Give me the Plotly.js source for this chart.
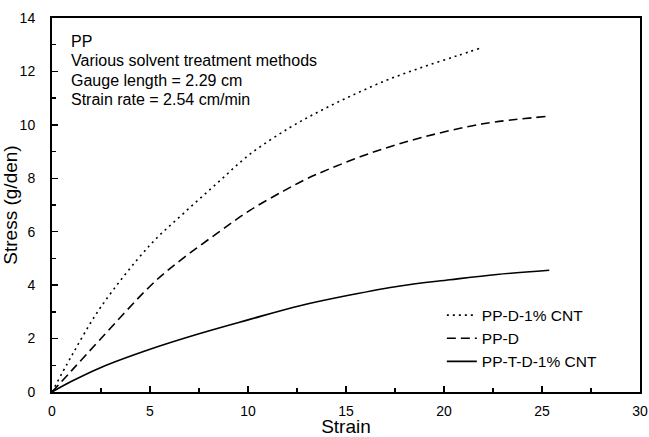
<!DOCTYPE html>
<html>
<head>
<meta charset="utf-8">
<script src="https://cdn.plot.ly/plotly-3.0.1.min.js"></script>
<style>html,body{margin:0;padding:0;background:#fff;}#chart{width:649px;height:437px;}</style>
</head>
<body>
<div id="chart"></div>
<script>
// PP-D-1% CNT (dotted)
var strainDotted = [0, 1, 2.5, 5, 6.7, 8.4, 10.1, 12.14, 13.84, 15.54, 17.24, 18.94, 20.65, 21.84];
var stressDotted = [0, 1.35, 3.19, 5.5, 6.68, 7.8, 8.9, 9.9, 10.58, 11.18, 11.72, 12.17, 12.58, 12.87];
// PP-D (dashed)
var strainDashed = [0, 1, 2.5, 5, 6.19, 8.4, 10.1, 11.8, 13.0, 14.18, 16.4, 18.94, 22.0, 25.3];
var stressDashed = [0, 0.8, 2.0, 3.96, 4.72, 5.93, 6.8, 7.52, 7.98, 8.36, 8.98, 9.54, 10.04, 10.32];
// PP-T-D-1% CNT (solid)
var strainSolid = [0, 1, 2.5, 5, 7.5, 10, 12.65, 15.2, 17.76, 20.3, 22.7, 25.37];
var stressSolid = [0, 0.4, 0.92, 1.6, 2.18, 2.7, 3.23, 3.63, 3.97, 4.2, 4.4, 4.56];

var seriesNames = ["PP-D-1% CNT", "PP-D", "PP-T-D-1% CNT"];
var xTicks = [0, 5, 10, 15, 20, 25, 30];
var yTicks = [0, 2, 4, 6, 8, 10, 12, 14];
var noteLines = ["PP", "Various solvent treatment methods", "Gauge length = 2.29 cm", "Strain rate = 2.54 cm/min"];

var FONT = "Liberation Sans, Arial, sans-serif";

var traces = [
  {x: strainDotted, y: stressDotted, name: seriesNames[0], mode: "lines", line: {color: "#000", width: 1.6, dash: "2px,4px", shape: "spline"}},
  {x: strainDashed, y: stressDashed, name: seriesNames[1], mode: "lines", line: {color: "#000", width: 1.6, dash: "9px,5px", shape: "spline"}},
  {x: strainSolid, y: stressSolid, name: seriesNames[2], mode: "lines", line: {color: "#000", width: 1.6, shape: "spline"}}
];

var noteY = [0.937, 0.886, 0.833, 0.782];
var annotations = noteLines.map(function (t, i) {
  return {text: t, xref: "paper", yref: "paper", x: 0.029, y: noteY[i], xanchor: "left", yanchor: "middle",
          showarrow: false, font: {family: FONT, size: 16, color: "#000"}};
});

var layout = {
  width: 649, height: 437,
  margin: {l: 52, r: 9, t: 17.5, b: 45, pad: 0},
  paper_bgcolor: "#fff", plot_bgcolor: "#fff",
  showlegend: true,
  legend: {x: 0.663, y: 0.25, xanchor: "left", yanchor: "top", bgcolor: "rgba(0,0,0,0)",
           font: {family: FONT, size: 15.5, color: "#000"}, tracegroupgap: 0},
  xaxis: {
    range: [0, 30], tickvals: xTicks, ticktext: xTicks.map(String),
    showline: true, linecolor: "#000", linewidth: 2, mirror: true, showgrid: false, zeroline: false,
    ticks: "inside", ticklen: 6, tickwidth: 1.5, tickcolor: "#000",
    minor: {dtick: 2.5, tick0: 0, ticks: "inside", ticklen: 4, tickwidth: 1.5, tickcolor: "#000", showgrid: false},
    tickfont: {family: FONT, size: 14, color: "#000"}, ticklabelstandoff: 5,
    title: {text: "Strain", font: {family: FONT, size: 19, color: "#000"}, standoff: 0}
  },
  yaxis: {
    range: [0, 14], tickvals: yTicks, ticktext: yTicks.map(String),
    showline: true, linecolor: "#000", linewidth: 2, mirror: true, showgrid: false, zeroline: false,
    ticks: "inside", ticklen: 6, tickwidth: 1.5, tickcolor: "#000",
    minor: {dtick: 1, tick0: 0, ticks: "inside", ticklen: 4, tickwidth: 1.5, tickcolor: "#000", showgrid: false},
    tickfont: {family: FONT, size: 14, color: "#000"}, ticklabelstandoff: 12,
    title: {text: "Stress (g/den)", font: {family: FONT, size: 19, color: "#000"}, standoff: 0}
  },
  annotations: annotations
};

Plotly.newPlot("chart", traces, layout, {displayModeBar: false, staticPlot: true});
</script>
</body>
</html>
